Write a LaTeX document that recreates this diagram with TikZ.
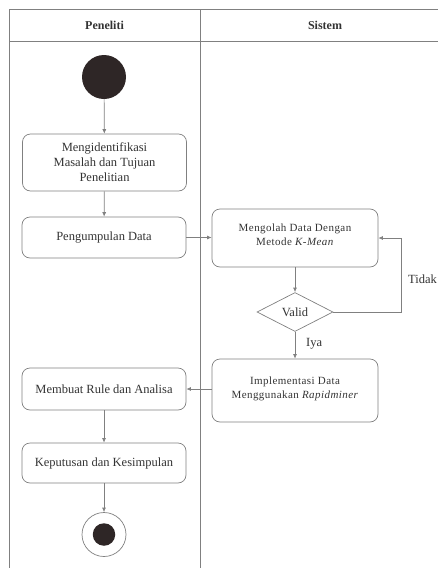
\documentclass[tikz,border=0pt]{standalone}
\usepackage{fontspec}
\setmainfont{Liberation Serif}
\newfontfamily\sysfont[LetterSpace=4]{Liberation Serif}
\usetikzlibrary{arrows.meta,shapes.geometric}
\definecolor{linec}{HTML}{808080}
\definecolor{textc}{HTML}{333333}
\definecolor{dotc}{HTML}{2E2626}
\tikzset{
  act/.style={draw=linec, line width=0.7pt, rounded corners=8pt, align=center, text=textc, font=\fontsize{12.5}{15}\selectfont, inner sep=0pt},
  sact/.style={act, font=\sysfont\fontsize{11}{15}\selectfont},
  flow/.style={draw=linec, line width=0.7pt, -{Latex[length=4.5pt,width=4pt]}},
  lane/.style={draw=linec, line width=0.9pt},
  lbl/.style={text=textc, font=\fontsize{12.5}{14}\selectfont, inner sep=0pt}
}
\begin{document}
\begin{tikzpicture}[x=1pt,y=-1pt]
\useasboundingbox (0,0) rectangle (438,568);
% swimlanes
\draw[lane] (438,9) -- (9,9) -- (9,568);
\draw[lane] (9,41) -- (438,41);
\draw[lane] (200,9) -- (200,568);
\node[lbl, font=\fontsize{12}{14}\selectfont\bfseries] (h1) at (104.5,25) {Peneliti};
\node[lbl, font=\fontsize{12}{14}\selectfont\bfseries] (h2) at (325,25) {Sistem};
% start
\node[circle, fill=dotc, minimum size=44pt, inner sep=0pt] (start) at (104,77) {};
% activities
\node[act, minimum width=164pt, minimum height=57pt] (a1) at (104.5,162.5) {Mengidentifikasi\\Masalah dan Tujuan\\Penelitian};
\node[act, minimum width=164pt, minimum height=41pt] (a2) at (104,237.5) {Pengumpulan Data};
\node[sact, minimum width=166pt, minimum height=58pt] (s1) at (295,238) {\raisebox{6pt}{\shortstack{Mengolah Data Dengan\\[1pt]Metode \textit{K-Mean}}}};
\node[diamond, draw=linec, line width=0.7pt, minimum width=76pt, minimum height=39pt, inner sep=0pt, text=textc, font=\fontsize{12.5}{14}\selectfont, aspect=2] (v) at (295,312) {Valid};
\node[sact, minimum width=166pt, minimum height=63pt] (s2) at (295,390.5) {\raisebox{6pt}{\shortstack{Implementasi Data\\[1pt]Menggunakan \textit{Rapidminer}}}};
\node[act, minimum width=164pt, minimum height=42pt] (a3) at (104,389) {Membuat Rule dan Analisa};
\node[act, minimum width=164pt, minimum height=40pt] (a4) at (104,463) {Keputusan dan Kesimpulan};
% end
\node[circle, draw=linec, line width=0.7pt, fill=white, minimum size=44pt, inner sep=0pt] (end) at (104,534.5) {};
\node[circle, fill=dotc, minimum size=22.5pt, inner sep=0pt] (endi) at (104,534.5) {};
% flows
\draw[flow] (start) -- (a1);
\draw[flow] (a1) -- (a2);
\draw[flow] (a2.east) -- (s1.west |- a2.east);
\draw[flow] (s1) -- (v);
\coordinate (t1) at (401,312);
\coordinate (t2) at (401,238);
\draw[flow] (v.east) -- (t1) -- (t2) -- (s1.east);
\node[lbl, anchor=west] (tidak) at (408,279) {Tidak};
\draw[flow] (v) -- (s2);
\node[lbl, anchor=west] (iya) at (306,344) {Iya};
\draw[flow] (s2.west |- a3.east) -- (a3.east);
\draw[flow] (a3) -- (a4);
\draw[flow] (a4) -- (end);
\end{tikzpicture}
\end{document}
